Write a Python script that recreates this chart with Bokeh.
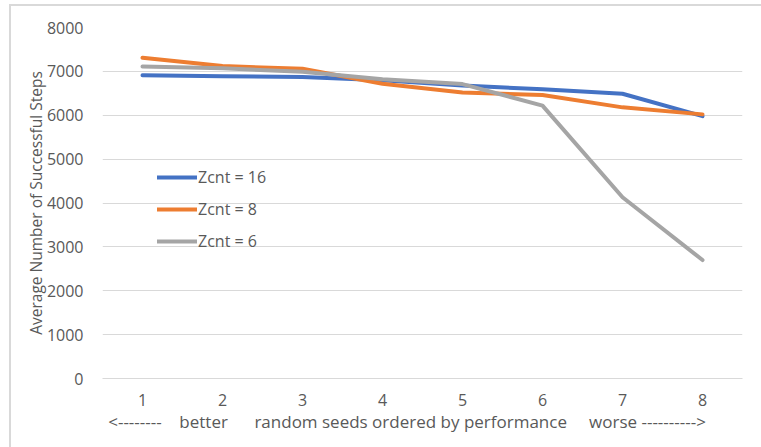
from bokeh.plotting import figure
from bokeh.models import Legend, LegendItem, FixedTicker, Range1d
from bokeh.embed import file_html
from bokeh.resources import INLINE

# Seeds ordered from best to worst, and average successful steps per seed
seeds = [1, 2, 3, 4, 5, 6, 7, 8]
zcnt16 = [6910, 6890, 6870, 6800, 6680, 6590, 6490, 5980]
zcnt8 = [7310, 7120, 7060, 6720, 6520, 6460, 6180, 6020]
zcnt6 = [7110, 7070, 6990, 6820, 6710, 6220, 4130, 2700]

series_names = ["Zcnt = 16", "Zcnt = 8", "Zcnt = 6"]
series_colors = ["#4472C4", "#ED7D31", "#A5A5A5"]
y_ticks = [0, 1000, 2000, 3000, 4000, 5000, 6000, 7000, 8000]

NB = "\u00a0"  # keeps runs of spaces from collapsing in SVG text
x_title = ("<--------" + NB * 4 + "better" + NB * 6 + "random seeds ordered by performance"
           + NB * 5 + "worse ---------->" + NB * 7)

FONT = "Open Sans"
TEXT = "#595959"
GRID = "#d9d9d9"

p = figure(
    width=752, height=443,
    output_backend="svg", toolbar_location=None,
    x_range=Range1d(0.5, 8.5), y_range=Range1d(0, 8000),
    min_border_left=91, min_border_right=21,
    min_border_top=21, min_border_bottom=71,
)
p.styles = {
    "margin-left": "9px", "margin-top": "4px",
    "border-left": "2px solid #d9d9d9", "border-top": "2px solid #d9d9d9",
}
p.outline_line_color = None
p.background_fill_color = "white"
p.border_fill_color = "white"

# gridlines
p.xgrid.visible = False
p.ygrid.grid_line_color = GRID
p.ygrid.grid_line_width = 1
p.ygrid.ticker = FixedTicker(ticks=y_ticks)

# y axis
p.yaxis.ticker = FixedTicker(ticks=y_ticks)
p.yaxis.axis_line_color = None
p.yaxis.major_tick_line_color = None
p.yaxis.minor_tick_line_color = None
p.yaxis.major_label_text_color = TEXT
p.yaxis.major_label_text_font = FONT
p.yaxis.major_label_text_font_size = "16px"
p.yaxis.major_label_standoff = 13
p.yaxis.axis_label = "Average Number of Successful Steps"
p.yaxis.axis_label_text_color = TEXT
p.yaxis.axis_label_text_font = FONT
p.yaxis.axis_label_text_font_size = "15.5px"
p.yaxis.axis_label_text_font_style = "normal"
p.yaxis.axis_label_standoff = -3

# x axis
p.xaxis.ticker = FixedTicker(ticks=seeds)
p.xaxis.axis_line_color = GRID
p.xaxis.major_tick_line_color = None
p.xaxis.minor_tick_line_color = None
p.xaxis.major_label_text_color = TEXT
p.xaxis.major_label_text_font = FONT
p.xaxis.major_label_text_font_size = "16px"
p.xaxis.major_label_standoff = 9
p.xaxis.axis_label = x_title
p.xaxis.axis_label_text_color = TEXT
p.xaxis.axis_label_text_font = FONT
p.xaxis.axis_label_text_font_size = "17px"
p.xaxis.axis_label_text_font_style = "normal"
p.xaxis.axis_label_standoff = 1

items = []
for name, vals, color in zip(series_names, [zcnt16, zcnt8, zcnt6], series_colors):
    r = p.line(seeds, vals, line_color=color, line_width=4, line_cap="round", line_join="round")
    items.append(LegendItem(label=name, renderers=[r]))

legend = Legend(
    items=items, location=(55, 126),
    glyph_width=40, glyph_height=20, spacing=10,
    label_standoff=1, padding=0, margin=0,
    label_text_font=FONT, label_text_font_size="16px", label_text_color=TEXT,
    background_fill_alpha=0, border_line_color=None,
)
p.add_layout(legend)

open("out.html", "w").write(file_html(p, INLINE))
